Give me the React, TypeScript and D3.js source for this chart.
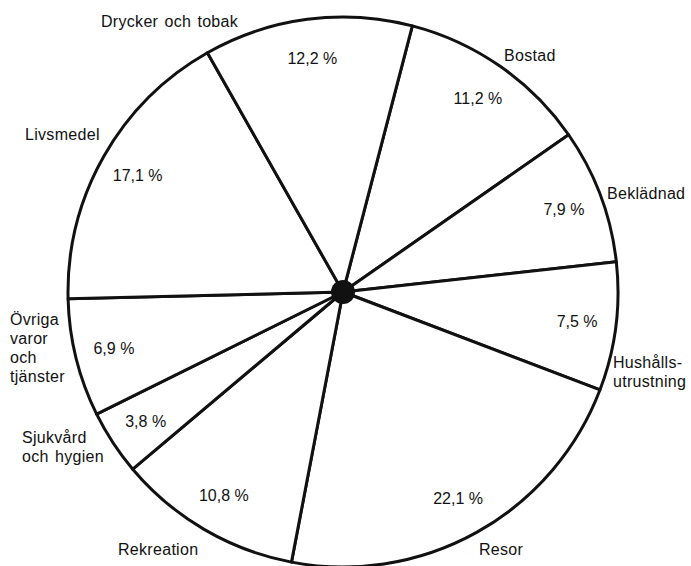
import React from "react";
import * as d3 from "d3";

// andel av konsumtionen, medurs från toppen
const categories = [
  "Bostad",
  "Beklädnad",
  "Hushållsutrustning",
  "Resor",
  "Rekreation",
  "Sjukvård och hygien",
  "Övriga varor och tjänster",
  "Livsmedel",
  "Drycker och tobak",
];
const shares = [11.2, 7.9, 7.5, 22.1, 10.8, 3.8, 6.9, 17.1, 12.2];
const shareLabels = ["11,2 %", "7,9 %", "7,5 %", "22,1 %", "10,8 %", "3,8 %", "6,9 %", "17,1 %", "12,2 %"];

// text lines of the outer labels (hand placed like the print)
const outerLines = [
  ["Bostad"],
  ["Beklädnad"],
  ["Hushålls-", "utrustning"],
  ["Resor"],
  ["Rekreation"],
  ["Sjukvård", "och hygien"],
  ["Övriga", "varor", "och", "tjänster"],
  ["Livsmedel"],
  ["Drycker och tobak"],
];
const outerPos: [number, number][] = [
  [504, 61],
  [607, 199],
  [613, 368],
  [479, 555],
  [118, 555],
  [22, 443],
  [10, 325],
  [25, 140],
  [101, 27],
];

const W = 691;
const H = 566;
const cx = 343;
const cy = 292;
const R = 275;
const lineGap = 19;

export default function App() {
  const start = (14.6 * Math.PI) / 180;
  const pie = d3
    .pie<number>()
    .sort(null)
    .value((d) => d)
    .startAngle(start)
    .endAngle(start + 2 * Math.PI);
  const arcs = pie(shares);

  const arc = d3.arc<d3.PieArcDatum<number>>().innerRadius(0).outerRadius(R);
  const labelArc = d3
    .arc<d3.PieArcDatum<number>>()
    .innerRadius(236)
    .outerRadius(236);

  const font = "'Liberation Sans', Arial, sans-serif";

  return (
    <svg
      width={W}
      height={H}
      style={{ position: "absolute", left: 0, top: 0, background: "#fff" }}
    >
      <g transform={`translate(${cx},${cy})`}>
        {arcs.map((a, i) => (
          <path
            key={categories[i]}
            d={arc(a) || ""}
            fill="#fff"
            stroke="#111"
            strokeWidth={3}
            strokeLinejoin="round"
          />
        ))}
        <circle r={12} fill="#111" />
        {arcs.map((a, i) => {
          const [x, y] = labelArc.centroid(a);
          return (
            <text
              key={"p" + i}
              x={x}
              y={y}
              dy="0.35em"
              textAnchor="middle"
              fontFamily={font}
              fontSize={16}
              fill="#111"
            >
              {shareLabels[i]}
            </text>
          );
        })}
      </g>
      {outerLines.map((lines, i) => (
        <text
          key={"o" + i}
          x={outerPos[i][0]}
          y={outerPos[i][1]}
          fontFamily={font}
          fontSize={16}
          fill="#111"
          letterSpacing={0.3}
          wordSpacing={1.5}
        >
          {lines.map((l, j) => (
            <tspan key={j} x={outerPos[i][0]} dy={j === 0 ? 0 : lineGap}>
              {l}
            </tspan>
          ))}
        </text>
      ))}
    </svg>
  );
}
